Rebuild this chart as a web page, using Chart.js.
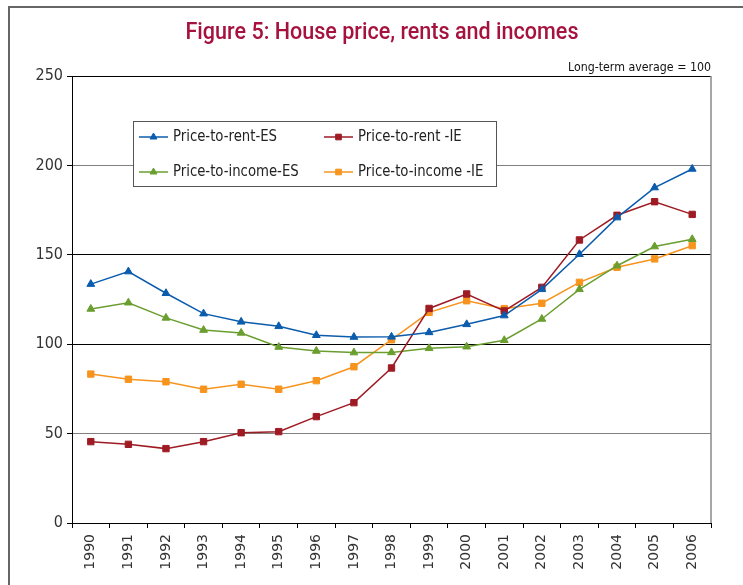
<!DOCTYPE html>
<html>
<head>
<meta charset="utf-8">
<script src="https://cdn.jsdelivr.net/npm/chart.js@4.4.1/dist/chart.umd.min.js"></script>
<style>
  html, body { margin: 0; padding: 0; background: #fff; }
  #c { display: block; }
</style>
</head>
<body>
<canvas id="c" width="743" height="585"></canvas>
<script>
// ---- data ----
const years = ["1990","1991","1992","1993","1994","1995","1996","1997","1998","1999","2000","2001","2002","2003","2004","2005","2006"];
const priceToRentES   = [133.6, 140.6, 128.5, 117.1, 112.5, 110.0, 105.0, 104.0, 104.1, 106.6, 111.1, 116.0, 130.7, 150.3, 170.8, 187.6, 198.0];
const priceToRentIE   = [45.5, 44.0, 41.6, 45.5, 50.5, 51.1, 59.5, 67.3, 86.7, 120.0, 128.1, 118.6, 131.8, 158.3, 172.1, 179.7, 172.6];
const priceToIncomeES = [119.7, 123.2, 114.7, 107.9, 106.3, 98.4, 96.2, 95.3, 95.4, 97.7, 98.6, 102.2, 114.1, 130.7, 143.9, 154.6, 158.7];
const priceToIncomeIE = [83.3, 80.4, 79.0, 74.8, 77.6, 74.8, 79.6, 87.4, 102.5, 117.8, 124.3, 119.9, 122.9, 134.6, 143.0, 147.7, 155.1];
const seriesLabels = ["Price-to-rent-ES", "Price-to-rent -IE", "Price-to-income-ES", "Price-to-income -IE"];
const yTicks = [0, 50, 100, 150, 200, 250];
const titleText = "Figure 5: House price, rents and incomes";
const noteText = "Long-term average = 100";

// ---- styles ----
const NARROW = "'DejaVu Sans Condensed', 'DejaVu Sans', sans-serif";
const colors = ["#0B5CAD", "#9E1B24", "#6A9E2F", "#F7941E"];
const styles = ["triangle", "rect", "triangle", "rect"];
const values = [priceToRentES, priceToRentIE, priceToIncomeES, priceToIncomeIE];

const datasets = values.map((v, i) => ({
  label: seriesLabels[i],
  data: v,
  borderColor: colors[i],
  backgroundColor: colors[i],
  pointBackgroundColor: colors[i],
  pointBorderColor: colors[i],
  pointStyle: styles[i],
  pointRadius: 4.5,
  pointBorderWidth: 1,
  borderWidth: 1.5,
  tension: 0,
  fill: false
}));

function drawMarker(ctx, style, x, y, r, color) {
  ctx.save();
  ctx.fillStyle = color;
  ctx.strokeStyle = color;
  ctx.lineWidth = 1;
  ctx.beginPath();
  if (style === "triangle") {
    ctx.moveTo(x, y - r);
    ctx.lineTo(x + r * Math.sqrt(3) / 2, y + r / 2);
    ctx.lineTo(x - r * Math.sqrt(3) / 2, y + r / 2);
    ctx.closePath();
  } else {
    const s = r * Math.SQRT1_2;
    ctx.rect(x - s, y - s, 2 * s, 2 * s);
  }
  ctx.fill();
  ctx.stroke();
  ctx.restore();
}

// draw text horizontally squeezed by factor sx (keeps it real text)
function squeezedText(ctx, text, x, y, sx, align) {
  ctx.save();
  ctx.translate(x, y);
  ctx.scale(sx, 1);
  ctx.textAlign = align;
  ctx.fillText(text, 0, 0);
  ctx.restore();
}

const decor = {
  id: "decor",
  beforeDraw(chart) {
    const ctx = chart.ctx;
    ctx.save();
    ctx.fillStyle = "#fff";
    ctx.fillRect(0, 0, chart.width, chart.height);
    // outer frame
    ctx.strokeStyle = "#666";
    ctx.lineWidth = 2;
    ctx.beginPath();
    ctx.moveTo(9, chart.height + 2);
    ctx.lineTo(9, 7);
    ctx.lineTo(chart.width + 2, 7);
    ctx.stroke();
    // title
    ctx.fillStyle = "#A6123E";
    ctx.font = "500 23px Roboto, " + NARROW;
    ctx.textBaseline = "alphabetic";
    const tw = ctx.measureText(titleText).width;
    squeezedText(ctx, titleText, 382, 39, 393 / tw, "center");
    // note
    ctx.fillStyle = "#111";
    ctx.font = "13px " + NARROW;
    const nw = ctx.measureText(noteText).width;
    squeezedText(ctx, noteText, chart.chartArea.right, 71, 143 / nw, "right");
    ctx.restore();
  },
  beforeDatasetsDraw(chart) {
    const ctx = chart.ctx, a = chart.chartArea;
    ctx.save();
    ctx.strokeStyle = "#888";
    ctx.lineWidth = 1.5;
    ctx.beginPath();
    ctx.moveTo(a.right, a.top);
    ctx.lineTo(a.right, a.bottom);
    ctx.stroke();
    ctx.restore();
  },
  afterDatasetsDraw(chart) {
    const ctx = chart.ctx;
    const box = { x: 133, y: 121, w: 363, h: 65 };
    ctx.save();
    ctx.fillStyle = "#fff";
    ctx.fillRect(box.x, box.y, box.w, box.h);
    ctx.strokeStyle = "#555";
    ctx.lineWidth = 1;
    ctx.strokeRect(box.x + 0.5, box.y + 0.5, box.w, box.h);
    const cols = [139, 324];
    const rows = [137, 172];
    ctx.font = "16px " + NARROW;
    ctx.textBaseline = "middle";
    const sx = 104 / ctx.measureText(chart.data.datasets[0].label).width;
    chart.data.datasets.forEach((ds, i) => {
      const cx = cols[i % 2], cy = rows[Math.floor(i / 2)];
      ctx.strokeStyle = ds.borderColor;
      ctx.lineWidth = 1.5;
      ctx.beginPath();
      ctx.moveTo(cx, cy);
      ctx.lineTo(cx + 29, cy);
      ctx.stroke();
      drawMarker(ctx, ds.pointStyle, cx + 14.5, cy, 4, ds.borderColor);
      ctx.fillStyle = "#222";
      squeezedText(ctx, ds.label, cx + 34, cy, sx, "left");
    });
    ctx.restore();
  }
};

new Chart(document.getElementById("c"), {
  type: "line",
  data: { labels: years, datasets },
  plugins: [decor],
  options: {
    responsive: false,
    animation: false,
    devicePixelRatio: 1,
    layout: { padding: { top: 76, right: 32, left: 0, bottom: 0 } },
    plugins: { legend: { display: false }, title: { display: false }, tooltip: { enabled: false } },
    scales: {
      x: {
        type: "category",
        offset: true,
        grid: { offset: true, drawOnChartArea: false, tickLength: 5, color: "#000", tickColor: "#000" },
        border: { color: "#000", width: 1 },
        ticks: {
          autoSkip: false, minRotation: 90, maxRotation: 90, padding: 6,
          color: "#333", font: { family: "'DejaVu Sans', Verdana, sans-serif", size: 14 }
        },
        afterFit(s) { s.height = 62; }
      },
      y: {
        min: 0, max: 250,
        afterBuildTicks(s) { s.ticks = yTicks.map(v => ({ value: v })); },
        grid: {
          color: c => (c.tick && (c.tick.value === 50 || c.tick.value === 200)) ? "#808080" : "#000",
          tickColor: "#000", tickLength: 5, lineWidth: 1
        },
        border: { color: "#000", width: 1 },
        ticks: { padding: 4, color: "#333", font: { family: NARROW, size: 16 } },
        afterFit(s) { s.width = 72; }
      }
    }
  }
});
</script>
</body>
</html>
